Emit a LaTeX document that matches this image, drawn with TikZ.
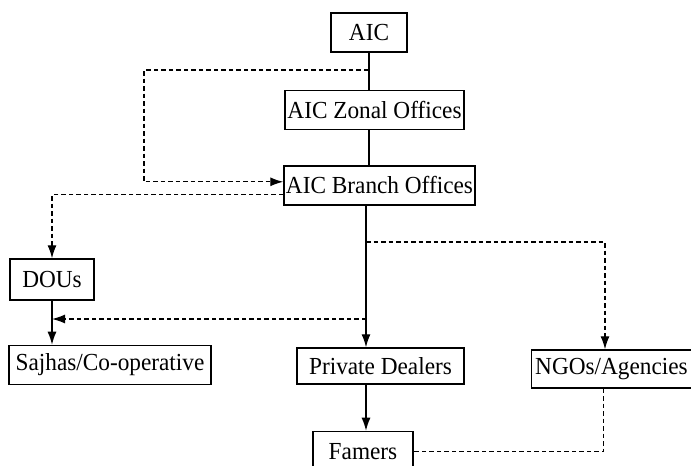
\documentclass[tikz,border=0pt]{standalone}
\usepackage{fontspec}
\setmainfont{Liberation Serif}[FakeStretch=0.95]
\usetikzlibrary{positioning,arrows.meta}

\tikzset{
  box/.style={draw, line width=1.4pt, inner sep=0pt, minimum height=39pt,
    font=\fontsize{24.5}{27}\selectfont},
  link/.style={line width=1.3pt},
  flow/.style={link, -{Latex[length=13pt,width=9pt]}},
  dashlink/.style={link, dash pattern=on 4.5pt off 3pt},
  dashflow/.style={dashlink, -{Latex[length=13pt,width=9pt]}},
}

\begin{document}
\begin{tikzpicture}[x=1pt,y=-1pt]
                \useasboundingbox (0,0) rectangle (691,466);

                \node[box, minimum width=76pt] (aic) at (369,32.5) {AIC};
                \node[box, minimum width=179pt, below=37pt of aic, xshift=5.5pt] (zonal) {AIC Zonal Offices};
                \node[box, minimum width=191pt, below=35pt of zonal, xshift=5pt] (branch) {AIC Branch Offices};
                \node[box, minimum width=84pt, minimum height=41pt] (dous) at (52,279.5) {DOUs};
                \node[box, minimum width=202pt, below=44pt of dous, xshift=58pt] (sajhas) {Sajhas/Co-operative};
                \node[box, minimum width=167pt, minimum height=36pt] (dealers) at (380.5,366) {Private Dealers};
                \node[box, minimum width=160pt, minimum height=38pt] (ngos) at (611.5,369) {NGOs/Agencies};
                \node[box, minimum width=100pt, minimum height=40pt, below=46pt of dealers, xshift=-17.5pt] (famers) {Famers};

                % points on the main line
                \coordinate (spine) at (366,0);
                \coordinate (tapA) at (368,70);
                \coordinate (tapB) at (366,242);
                \coordinate (tapC) at (366,319);

                % solid lines
                \draw[link] (aic.south) -- (aic.south |- zonal.north);
                \draw[link] (aic.south |- zonal.south) -- (aic.south |- branch.north);
                \draw[flow] (spine |- branch.south) -- (spine |- dealers.north);
                \draw[flow] (spine |- dealers.south) -- (spine |- famers.north);
                \draw[flow] (dous) -- (dous |- sajhas.north);

                % dashed lines
                \draw[dashflow] (tapA) -- ++(-224,0) |- ([yshift=3.5pt]branch.west);
                \draw[dashflow] ([yshift=-9.5pt]branch.west) -| (dous);
                \draw[dashflow] (tapB) -| ([xshift=-6.5pt]ngos.north);
                \draw[dashflow] (tapC) -- (dous |- tapC);
                \draw[dashlink] ([xshift=-8pt]ngos.south) |- (famers);
                % \draw[dashlink] (famers) -- (ngos);
\end{tikzpicture}
\end{document}
